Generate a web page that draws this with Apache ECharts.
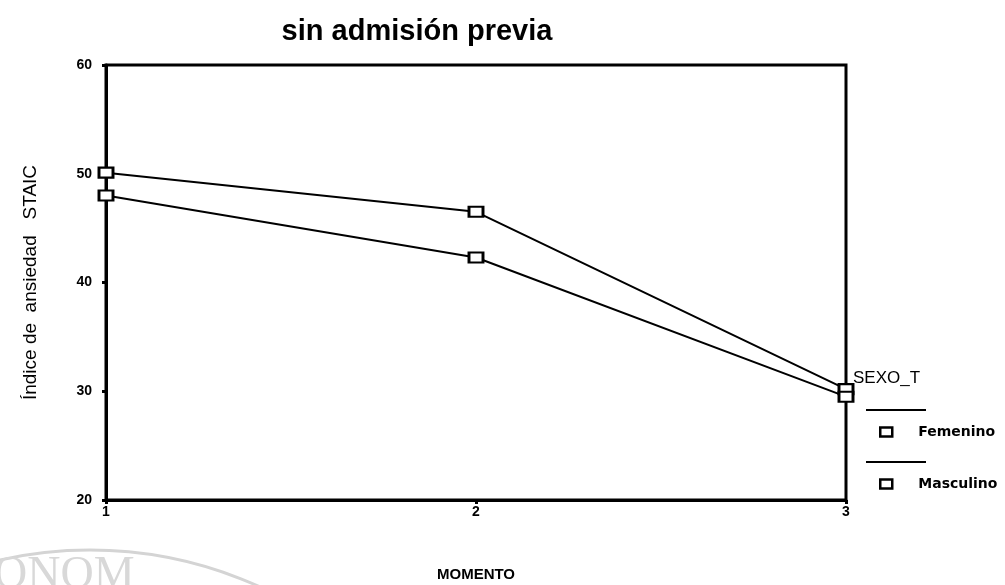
<!DOCTYPE html>
<html>
<head>
<meta charset="utf-8">
<script src="https://cdn.jsdelivr.net/npm/echarts@6/dist/echarts.min.js"></script>
<style>
  html, body { margin: 0; padding: 0; background: #fff; }
  #chart { width: 1005px; height: 585px; }
</style>
</head>
<body>
<div id="chart"></div>
<script>
// datos
const momentos = [1, 2, 3];
const femenino = [50.1, 46.5, 30.2];
const masculino = [48.0, 42.3, 29.5];
const yTicks = [20, 30, 40, 50, 60];

const font = '"Liberation Sans", Arial, sans-serif';

const chart = echarts.init(document.getElementById('chart'));

function serie(name, values) {
  return {
    name: name,
    type: 'line',
    data: momentos.map((m, i) => [m, values[i]]),
    symbol: 'rect',
    symbolSize: [14, 10],
    showAllSymbol: true,
    lineStyle: { color: '#000', width: 2 },
    itemStyle: { color: '#fff', borderColor: '#000', borderWidth: 2.5 },
    emphasis: { disabled: true },
    z: 3
  };
}

chart.setOption({
  animation: false,
  backgroundColor: '#fff',
  title: {
    text: 'sin admisión previa',
    left: 412,
    top: 12,
    textAlign: 'center',
    textStyle: { fontFamily: font, fontSize: 29, fontWeight: 'bold', color: '#000' }
  },
  grid: {
    left: 106, right: 159, top: 65, bottom: 85,
    outerBoundsMode: 'none',
    show: true, borderColor: '#000', borderWidth: 3
  },
  xAxis: {
    type: 'value',
    min: 1,
    max: 3,
    interval: 1,
    name: 'MOMENTO',
    nameLocation: 'middle',
    nameGap: 67,
    nameTextStyle: { fontFamily: font, fontSize: 15, fontWeight: 'bold', color: '#000' },
    axisLine: { show: true, lineStyle: { color: '#000', width: 3 } },
    axisTick: { show: true, length: 4, inside: false, lineStyle: { color: '#000', width: 3 } },
    axisLabel: {
      fontFamily: font, fontSize: 14, fontWeight: 'bold', color: '#000', margin: 5,
      formatter: v => momentos.includes(v) ? String(v) : ''
    },
    splitLine: { show: false }
  },
  yAxis: {
    type: 'value',
    min: yTicks[0],
    max: yTicks[yTicks.length - 1],
    interval: 10,
    name: 'Índice de  ansiedad   STAIC',
    nameLocation: 'middle',
    nameGap: 66,
    nameRotate: 90,
    nameTextStyle: { fontFamily: font, fontSize: 19, color: '#000' },
    axisLine: { show: true, lineStyle: { color: '#000', width: 3 } },
    axisTick: { show: true, length: 4, lineStyle: { color: '#000', width: 3 } },
    axisLabel: { fontFamily: font, fontSize: 14, fontWeight: 'bold', color: '#000', margin: 14 },
    splitLine: { show: false }
  },
  legend: {
    data: ['Femenino', 'Masculino'],
    orient: 'vertical',
    left: 874,
    top: 420,
    itemGap: 38,
    icon: 'rect',
    itemWidth: 12,
    itemHeight: 9,
    itemStyle: { color: '#fff', borderColor: '#000', borderWidth: 2.5 },
    lineStyle: { width: 0 },
    textStyle: { fontFamily: '"DejaVu Sans", sans-serif', fontSize: 14, fontWeight: 'bold', color: '#000', padding: [10, 0, 0, 21] },
    selectedMode: false
  },
  graphic: [
    { type: 'text', left: 853, top: 370, style: { text: 'SEXO_T', font: '17px ' + font, fill: '#000' } },
    { type: 'line', shape: { x1: 866, y1: 410, x2: 926, y2: 410 }, style: { stroke: '#000', lineWidth: 2 } },
    { type: 'line', shape: { x1: 866, y1: 462, x2: 926, y2: 462 }, style: { stroke: '#000', lineWidth: 2 } },
    { type: 'circle', shape: { cx: 90, cy: 960, r: 410 }, style: { fill: 'none', stroke: '#d4d4d4', lineWidth: 3 }, z: -1 },
    { type: 'text', left: -6, top: 553, style: { text: 'ONOM', font: '46px "Liberation Serif", serif', fill: '#d8d8d8' }, z: -1 }
  ],
  series: [serie('Femenino', femenino), serie('Masculino', masculino)]
});
</script>
</body>
</html>
